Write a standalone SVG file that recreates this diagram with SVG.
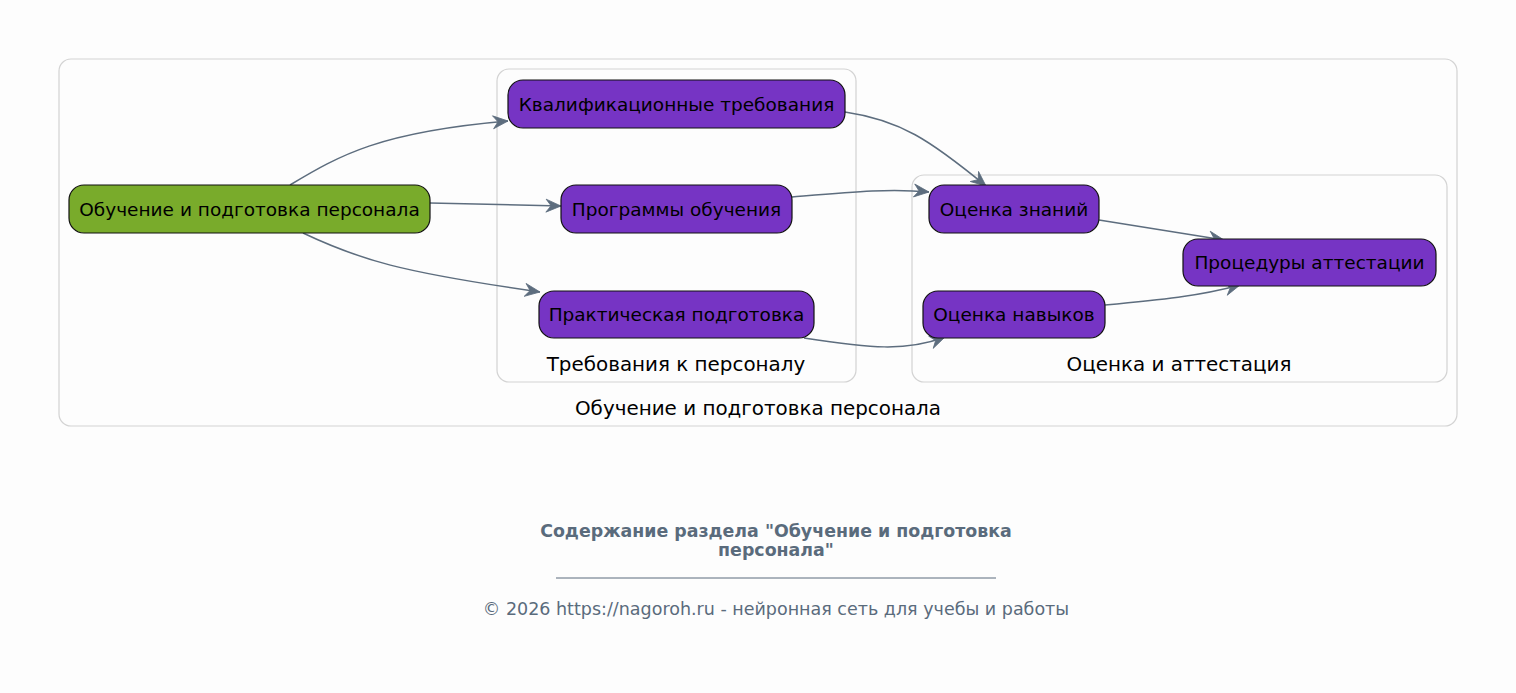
<svg xmlns="http://www.w3.org/2000/svg" width="1516" height="693" viewBox="0 0 1516 693">
<style>
.bg{fill:#fdfdfd}
.cl{fill:none;stroke:#d3d3d3;stroke-width:1.2}
.cll{font-family:"DejaVu Sans",sans-serif;font-size:19.9px;fill:#000;text-anchor:middle}
.n rect{stroke:#111;stroke-width:1.2}
.p rect{fill:#7634c4}
.g rect{fill:#79ab2b}
.n text{font-family:"DejaVu Sans",sans-serif;font-size:18.5px;fill:#000;text-anchor:middle;dominant-baseline:central}
.e path{fill:none;stroke:#5d6d7e;stroke-width:1.5}
.t{font-family:"DejaVu Sans",sans-serif;font-size:17.4px;font-weight:bold;fill:#5a6b7c;text-anchor:middle}
.f{font-family:"DejaVu Sans",sans-serif;font-size:17.5px;fill:#5a6b7c;text-anchor:middle}
</style>
<defs>
<marker id="a" markerWidth="20" markerHeight="20" refX="16" refY="8" orient="auto" markerUnits="userSpaceOnUse">
<path d="M1,1.5 L16,8 L1,14.5 L6,8 Z" fill="#5d6d7e" stroke="#5d6d7e" stroke-width="0.8" stroke-linejoin="miter"/>
</marker>
</defs>
<rect class="bg" x="0" y="0" width="1516" height="693"/>
<g id="clusters">
<rect class="cl" x="59" y="59" width="1398" height="367" rx="12"/>
<text class="cll" x="758" y="415">Обучение и подготовка персонала</text>
<rect class="cl" x="497" y="69" width="359" height="313" rx="12"/>
<text class="cll" x="676" y="371">Требования к персоналу</text>
<rect class="cl" x="912" y="175" width="535" height="207" rx="12"/>
<text class="cll" x="1179" y="371">Оценка и аттестация</text>
</g>
<g id="edges" class="e">
<path d="M290,185 C340,155 380,132 508,121" marker-end="url(#a)"/>
<path d="M430,203 L561,206" marker-end="url(#a)"/>
<path d="M303,233 C360,260 400,272 540,292" marker-end="url(#a)"/>
<path d="M845,112 C900,120 930,140 986,186" marker-end="url(#a)"/>
<path d="M792,197 C850,192 890,188 929,192" marker-end="url(#a)"/>
<path d="M804,338 C870,348 905,352 945,337" marker-end="url(#a)"/>
<path d="M1099,220 L1224,240" marker-end="url(#a)"/>
<path d="M1105,305 C1160,300 1200,296 1240,285" marker-end="url(#a)"/>
</g>
<g id="n1" class="n g"><rect x="69" y="185" width="361" height="48" rx="15"/><text x="249.5" y="209">Обучение и подготовка персонала</text></g>
<g id="n2" class="n p"><rect x="508" y="80" width="337" height="48" rx="15"/><text x="676.5" y="104">Квалификационные требования</text></g>
<g id="n3" class="n p"><rect x="561" y="185" width="231" height="48" rx="15"/><text x="676.5" y="209">Программы обучения</text></g>
<g id="n4" class="n p"><rect x="539" y="291" width="275" height="47" rx="15"/><text x="676.5" y="314.5">Практическая подготовка</text></g>
<g id="n5" class="n p"><rect x="929" y="185" width="170" height="48" rx="15"/><text x="1014" y="209">Оценка знаний</text></g>
<g id="n6" class="n p"><rect x="923" y="291" width="182" height="47" rx="15"/><text x="1014" y="314.5">Оценка навыков</text></g>
<g id="n7" class="n p"><rect x="1183" y="239" width="253" height="47" rx="15"/><text x="1309.5" y="262.5">Процедуры аттестации</text></g>
<g id="footer">
<text class="t" x="776" y="537">Содержание раздела "Обучение и подготовка</text>
<text class="t" x="776" y="556">персонала"</text>
<line x1="556" y1="578" x2="996" y2="578" stroke="#5a6b7c" stroke-width="1"/>
<text class="f" x="776" y="615">© 2026 https://nagoroh.ru - нейронная сеть для учебы и работы</text>
</g>
</svg>
